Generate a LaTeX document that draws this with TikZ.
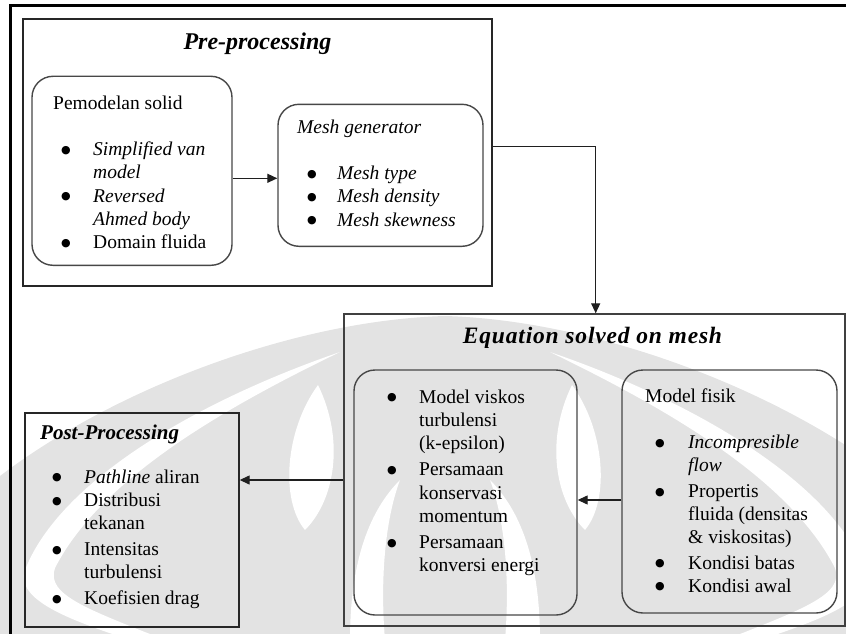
\documentclass[tikz,border=0pt]{standalone}
\usepackage{fontspec}
\setmainfont{Liberation Serif}
\newfontfamily\symf{DejaVu Sans}
\usetikzlibrary{arrows.meta}
\newcommand\bdot{\raisebox{2.4pt}{\symf\fontsize{11}{11}\selectfont ●}}
\newcommand\itm[2]{\hspace*{#1pt}\makebox[#2pt][l]{\bdot}}
\newcommand\cnt[1]{\hspace*{#1pt}}
\newcommand\fst{\rule{0pt}{15pt}}
\begin{document}
\begin{tikzpicture}[x=1pt,y=-1pt,
  body/.style={font=\fontsize{19.5}{23.2}\selectfont, align=left, inner sep=0pt, anchor=north west},
  ttl/.style={font=\fontsize{24}{28}\selectfont\bfseries\itshape, inner sep=0pt, anchor=base},
  sqbox/.style={draw=black!85, line width=1.4pt, inner sep=0pt},
  rbox/.style={draw=black!72, line width=1.4pt, rounded corners=21pt, inner sep=0pt},
  conn/.style={draw=black!88, line width=1.3pt, -{Triangle[length=10pt,width=9pt]}},
  wm/.style={fill=black!11, draw=none},
  wmw/.style={fill=white, draw=none}
]
\useasboundingbox (0,0) rectangle (846,634);
% faint watermark
\begin{scope}
\clip (0,0) rectangle (846,634);
\fill[wm] (0,476) .. controls (120,385) and (300,320) .. (445,316) .. controls (590,320) and (770,385) .. (890,476) -- (890,640) -- (0,640) -- cycle;
\foreach \m in {0,1}{
\begin{scope}[shift={(890*\m,0)}, xscale={1-2*\m}]
\fill[wmw] (340,352) .. controls (200,400) and (60,480) .. (25,570) .. controls (15,600) and (70,620) .. (130,640) -- (165,640) .. controls (90,610) and (45,595) .. (55,568) .. controls (100,480) and (220,410) .. (340,352) -- cycle;
\fill[wmw] (318,385) .. controls (285,430) and (280,500) .. (305,530) .. controls (335,500) and (345,440) .. (318,385) -- cycle;
\fill[wmw] (350,640) .. controls (350,560) and (370,510) .. (400,480) .. controls (385,520) and (380,580) .. (385,640) -- cycle;
\end{scope}}
\end{scope}
% outer frame
\draw[line width=2.6pt] (846,5.3) -- (10.7,5.3) -- (10.7,634);
% boxes
\node[sqbox, minimum width=469pt, minimum height=267pt] (pre) at (257.5,152.5) {};
\node[rbox, minimum width=200pt, minimum height=189pt] (pem) at (132,170.8) {};
\node[rbox, minimum width=205pt, minimum height=142pt] (mesh) at (380.5,175.3) {};
\node[sqbox, draw=black!75, minimum width=501pt, minimum height=312pt] (eq) at (594.5,470) {};
\node[rbox, minimum width=223pt, minimum height=245pt] (eqL) at (465.5,492.5) {};
\node[rbox, minimum width=215pt, minimum height=243pt] (fis) at (729.5,491.5) {};
\node[sqbox, minimum width=214pt, minimum height=214pt] (post) at (132,520) {};
% titles
\node[ttl] (pretitle) at (257.5,49) {Pre-processing};
\node[ttl, font=\fontsize{23.5}{28}\selectfont\bfseries\itshape\addfontfeature{LetterSpace=3.5}] (eqtitle) at (592.5,343.3) {Equation solved on mesh};
\node[ttl, anchor=base west, font=\fontsize{21}{24}\selectfont\bfseries\itshape] (posttitle) at (40,439) {Post-Processing};
% texts
\node[body] (pemtext) at (53,94) {\fst Pemodelan solid\\[23.2pt]
\itm{8}{32}\textit{Simplified van}\\
\cnt{40}\textit{model}\\
\itm{8}{32}\textit{Reversed}\\
\cnt{40}\textit{Ahmed body}\\
\itm{8}{32}Domain fluida};
\node[body] (meshtext) at (297,118) {\fst\textit{Mesh generator}\\[23.2pt]
\itm{10}{30}\textit{Mesh type}\\
\itm{10}{30}\textit{Mesh density}\\
\itm{10}{30}\textit{Mesh skewness}};
\node[body] (eqLtext) at (388,388) {\fst\itm{-1}{32}Model viskos\\
\cnt{31}turbulensi\\
\cnt{31}(k-epsilon)\\[3pt]
\itm{-1}{32}Persamaan\\
\cnt{31}konservasi\\
\cnt{31}momentum\\[3pt]
\itm{-1}{32}Persamaan\\
\cnt{31}konversi energi};
\node[body] (fistext) at (645,387) {\fst Model fisik\\[23.2pt]
\itm{10}{33}\textit{Incompresible}\\
\cnt{43}\textit{flow}\\[2.5pt]
\itm{10}{33}Propertis\\
\cnt{43}fluida (densitas\\
\cnt{43}\& viskositas)\\[2pt]
\itm{10}{33}Kondisi batas\\
\itm{10}{33}Kondisi awal};
\node[body] (posttext) at (40,468) {\fst\itm{12}{32}\textit{Pathline} aliran\\
\itm{12}{32}Distribusi\\
\cnt{44}tekanan\\[2.8pt]
\itm{12}{32}Intensitas\\
\cnt{44}turbulensi\\[2.8pt]
\itm{12}{32}Koefisien drag};
% connectors
\coordinate (k1) at (595.7,146.7);
\coordinate (k2) at (0,178.3);
\coordinate (k3) at (0,500);
\coordinate (k4) at (0,480);
\draw[conn] (pre.east |- k1) -| (eq.north -| k1);
\draw[conn] (pem.east |- k2) -- (mesh.west |- k2);
\draw[conn] (fis.west |- k3) -- (eqL.east |- k3);
\draw[conn] (eq.west |- k4) -- (post.east |- k4);
\end{tikzpicture}
\end{document}
